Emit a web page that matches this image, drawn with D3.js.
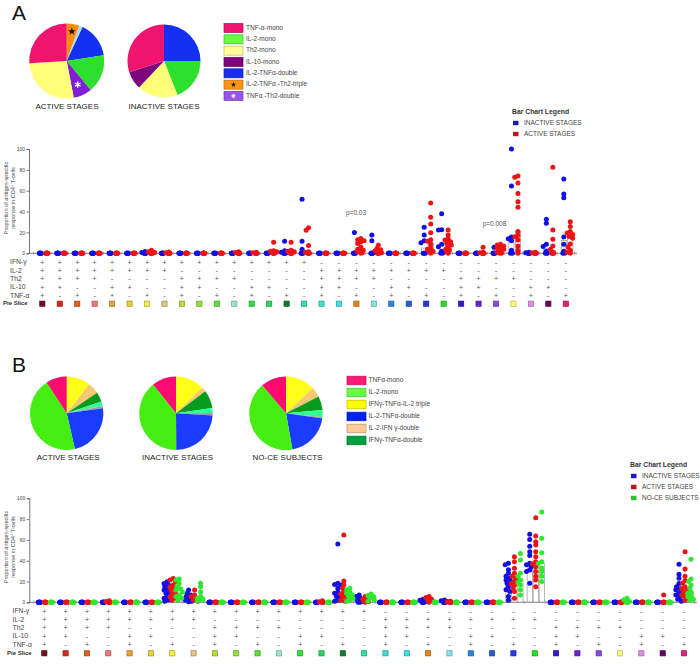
<!DOCTYPE html>
<html><head><meta charset="utf-8">
<script src="https://cdn.jsdelivr.net/npm/d3@7"></script>
<style>body{margin:0;background:#fff}svg{display:block}</style>
</head><body><svg id="c" width="700" height="664"></svg>
<script>
// ---------------- DATA ----------------
const markers = ["IFN-γ","IL-2","Th2","IL-10","TNF-α"];
const combos = ["+++++","++++-","+++-+","+++--","++-++","++-+-","++--+","++---",
  "+-+++","+-++-","+-+-+","+-+--","+--++","+--+-","+---+","+----",
  "-++++","-+++-","-++-+","-++--","-+-++","-+-+-","-+--+","-+---",
  "--+++","--++-","--+-+","--+--","---++","---+-","----+"];
const sliceColors = ["#6e0f1e","#d22a1e","#e0601e","#e8787a","#e8a03a","#e6cf3a","#f2f23c","#e2c582",
  "#b2e03c","#93e03c","#5ee03c","#9ee6c8","#2fe03c","#2fd066","#127a2a","#2fe0a6",
  "#3fe0c8","#3fe0e6","#e0841e","#86e2e6","#2a84e0","#2a5cd0","#2238e0","#22e022",
  "#3614d0","#6424d0","#8848e0","#ffff80","#e090e0","#5e0a5e","#e0207a"];
const yTicks = [0,20,40,60,80,100];

// Panel A pies
const pieLabelsA = ["ACTIVE STAGES","INACTIVE STAGES"];
const pieA_active = [5.5,1.5,15.5,16.5,8,27,26];
const pieA_activeColors = ["#ff8c0a","#a0e0f0","#1430f0","#2ee02e","#7e1fd6","#ffff7a","#f0146e"];
const pieA_inactive = [25,19,18,8,30];
const pieA_inactiveColors = ["#1430f0","#2ee02e","#ffff7a","#7d057d","#f0146e"];
const legendA = ["TNF-α-mono","IL-2-mono","Th2-mono","IL-10-mono","IL-2-TNFα-double","IL-2-TNFα -Th2-triple","TNFα -Th2-double"];
const legendAColors = ["#f0146e","#66ff44","#ffff99","#800080","#1a2cf0","#ff9410","#9955ee"];

// Panel B pies
const pieLabelsB = ["ACTIVE STAGES","INACTIVE STAGES","NO-CE SUBJECTS"];
const pieBColors = ["#ffff1a","#f8c870","#069a1e","#33ff99","#a0a0a0","#1a3cff","#44ee11","#ff0a6e"];
const pieB_active = [10.5,5,4.3,2,1,23.6,44.4,9.2];
const pieB_inactive = [12.7,2,8,2.2,1.1,23.9,39.4,10.7];
const pieB_noce = [13,4.4,6.2,3.1,0.6,19.9,41.6,11.2];
const legendB = ["TNFα-mono","IL-2-mono","IFNγ-TNFα-IL-2 triple","IL-2-TNFα-double","IL-2-IFN γ-double","IFNγ-TNFα-double"];
const legendBColors = ["#ff1a75","#66ff44","#ffff00","#0022ee","#ffcc99","#00a040"];

// Bar legends
const barLegendA = ["INACTIVE STAGES","ACTIVE STAGES"];
const barLegendB = ["INACTIVE STAGES","ACTIVE STAGES","NO-CE SUBJECTS"];

const Z8 = [0,0,0,0,0,0,0,0];
const Z10 = [0,0,0,0,0,0,0,0,0,0];
// Panel A points (per combination column)
const inactiveA = [Z8,Z8,Z8,Z8,Z8,Z8,[1.8,0.8,0,0,0,0,0,0],Z8,Z8,Z8,Z8,Z8,Z8,Z8,
  [11.5,2.5,1,0,0,0,0,0],[51.8,11.5,4,0,0,0,0,0],Z8,Z8,[20,0,0,0,0,0,0,0],[17.5,12,0,0,0,0,0,0],
  Z8,Z8,[25,17.5,12,10,0,0,0,0],[38,22.5,22.3,8.6,6.3,2,0,0],Z8,Z8,[5.8,0,0,0,0,0,0,0],
  [100,64.5,15.7,14,12,3,0,0],[1,0.5,0,0,0,0,0,0],[32.6,28.8,8.6,6.4,2,0,0,0],[71.2,56.8,53.3,15.7,8.6,2,0,0]];
const activeA = [Z10,Z10,Z10,Z10,Z10,Z10,[3,1.5,0.8,0,0,0,0,0,0,0],[1.2,0.5,0,0,0,0,0,0,0,0],Z10,Z10,Z10,
  [1.5,0.8,0,0,0,0,0,0,0,0],[1,0.5,0,0,0,0,0,0,0,0],[10.5,2.5,2,1.5,1,0.5,0,0,0,0],
  [10.5,3,2,1.5,1,0,0,0,0,0],[24.5,22,7.4,1.5,1,0,0,0,0,0],Z10,Z10,
  [14.3,13,12,11,9.5,6,4,3,2.5,1.5,0.5,0],[7.7,4.5,3.5,2.5,1.5,0.5,0,0,0,0],Z10,Z10,
  [48.2,34.5,28,19.7,12.9,11.5,8.6,5,3.8,2,1,0],[22.3,17.5,14,12.7,11,9.6,8,6.4,4,3.2,1,0],Z10,
  [5.8,1,0.5,0,0,0,0,0,0,0],[8.6,8,7,5.4,4.5,3.8,2.2,1,0,0],
  [74,73,67.5,57.3,49.4,44.2,21,17,15.8,12.7,7,3,0],[1,0.5,0,0,0,0,0,0,0,0],
  [82.4,22.3,13.4,7,4,1,0,0,0,0],[30.3,25.6,21,19.4,18,16.2,14.5,9,6,3,1,0]];

// Panel B points
const inactiveB = [Z8,Z8,Z8,Z8,Z8,Z8,[19.8,18,16.6,15,14.4,13,11.9,10,8.7,7,5.5,3.9,2.3,1],
  [11.9,8.7,7,5.5,4,2.3,1,0.5],Z8,Z8,Z8,Z8,Z8,Z8,[56,18.3,17,16.6,13.5,10,8.7,7,5.5,3.9,2,1],
  [7,5.5,3.9,2.5,1,0.5,0,0],Z8,Z8,[3,2,1,0,0,0,0,0],[2.3,1.5,0.5,0,0,0,0,0],Z8,Z8,
  [37.5,36,31.3,28,25,23.2,21.5,20,18.3,15,12,10.3,5.5,2],[65.4,60.5,54,48.6,45,37.5,36,34.3,31,29.5,18.3],
  Z8,Z8,Z8,Z8,Z8,Z8,[36.5,27,23.2,18,15,13,12,10,8.7,7,5.5,3,1]];
const activeB = [Z8,Z8,Z8,[1.5,0.8,0,0,0,0,0,0],Z8,Z8,[23,21.5,20,16.6,15,13.5,12,10.3,8,7.1,5,3.9,2],
  [11.9,7,5.5,4,2.3,1],Z8,Z8,Z8,Z8,Z8,[1.5,0.5,0,0,0,0,0,0],[64.7,20.5,16.6,13.5,10.3,8,7,5,4,2,1],
  [5.5,3,2,1,0.5,0],Z8,Z8,[5.5,4.5,3,2,1,0],[1,0.5,0,0,0,0,0,0],Z8,Z8,
  [43.9,39,32.7,28,25,23.2,20,18,16.6,13.5,10.3,4],[81.4,63.8,58.3,55,48.6,43.8,39,37,34.3,29.5,25,21.5,15],
  Z8,Z8,Z8,Z8,Z8,[7,0,0,0,0,0,0,0],[48.6,32,25,21,18.3,15,13,12,10,8.7,7,5.5,4,2]];
const noceB = [Z8,Z8,Z8,Z8,Z8,Z8,[22.4,21.5,18,15,13,11.9,10,7,5.5,4,2.3],[18.3,15,10,5.5,4,3,2.3,1.5],
  Z8,Z8,Z8,Z8,Z8,Z8,[13.5,12,10,8.7,7,5.5,4,2.3,1],[8,6.5,5.5,4,2.3,1],Z8,Z8,Z8,Z8,Z8,Z8,
  [47,40.7,28,25,21.5,19,16.6,12,7],[86.8,61.5,47.6,39,37.5,33,29.5,25,20],Z8,Z8,Z8,
  [4,2.5,1,0,0,0,0,0],Z8,Z8,[41.3,22.4,20,16.6,13.5,10,8.7,6,5.5,3,2]];

// ---------------- DRAW ----------------
const svg = d3.select("#c");
const FONT = "'Liberation Sans', Arial, sans-serif";
const TXT = "#444";

function txt(x, y, s, size, opts={}) {
  const t = svg.append("text").attr("x",x).attr("y",y).text(s)
    .attr("font-family",opts.family||FONT).attr("font-size",size)
    .attr("fill",opts.fill||TXT).attr("text-anchor",opts.anchor||"start")
    .attr("dominant-baseline",opts.baseline||"middle");
  if (opts.weight) t.attr("font-weight",opts.weight);
  if (opts.transform) t.attr("transform",opts.transform);
  return t;
}

function drawPie(cx, cy, r, vals, cols) {
  const arcs = d3.pie().sort(null).value(d=>d)(vals);
  const arc = d3.arc().innerRadius(0).outerRadius(r);
  svg.append("g").attr("transform",`translate(${cx},${cy})`)
    .selectAll("path").data(arcs).join("path")
    .attr("d",arc).attr("fill",(d,i)=>cols[i]);
  return arcs;
}

// Panel labels
txt(12, 14, "A", 21, {fill:"#111"});
txt(12, 366, "B", 21, {fill:"#111"});

// Pies A
const aAct = drawPie(66.7, 61, 37.5, pieA_active, pieA_activeColors);
drawPie(164, 61, 36.5, pieA_inactive, pieA_inactiveColors);
txt(67, 107, pieLabelsA[0], 8, {anchor:"middle", fill:"#222"});
txt(164, 107, pieLabelsA[1], 8, {anchor:"middle", fill:"#222"});
// stars
function starAt(x, y, black, sz) {
  if (black) {
    svg.append("path").attr("transform",`translate(${x},${y})`)
      .attr("d", d3.symbol(d3.symbolStar, sz)()).attr("fill","#111");
  } else {
    svg.append("path").attr("transform",`translate(${x},${y})`)
      .attr("d", d3.symbol(d3.symbolAsterisk, sz)()).attr("stroke","#fff").attr("stroke-width",1.2).attr("fill","none");
  }
}
{
  const a0 = aAct[0], a4 = aAct[4];
  const m0 = (a0.startAngle+a0.endAngle)/2, m4 = (a4.startAngle+a4.endAngle)/2;
  starAt(66.7 + 30*Math.sin(m0), 61 - 30*Math.cos(m0), true, 20);
  starAt(66.7 + 26*Math.sin(m4), 61 - 26*Math.cos(m4), false, 28);
}
// Legend A
legendA.forEach((s,i)=>{
  const yc = 28 + i*11.33;
  const c = legendAColors[i];
  svg.append("rect").attr("x",224).attr("y",yc-4.5).attr("width",19).attr("height",9)
    .attr("fill",c).attr("stroke",d3.color(c).darker(0.9)).attr("stroke-width",0.7);
  txt(246, yc, s, 6.5);
  if (i===5) starAt(233.5, yc, true, 9);
  if (i===6) starAt(233.5, yc, false, 12);
});

// Pies B
const pieBX = [66.7, 176, 286];
[pieB_active, pieB_inactive, pieB_noce].forEach((v,i)=>{
  drawPie(pieBX[i], 413.3, 36.7, v, pieBColors);
  txt(pieBX[i]+1.5, 458, pieLabelsB[i], 8, {anchor:"middle", fill:"#222"});
});
legendB.forEach((s,i)=>{
  const yc = 380.5 + i*11.99;
  const c = legendBColors[i];
  svg.append("rect").attr("x",347).attr("y",yc-4.3).attr("width",19).attr("height",8.6)
    .attr("fill",c).attr("stroke",d3.color(c).darker(0.9)).attr("stroke-width",0.7);
  txt(368.5, yc, s, 6.5);
});

// Bar chart legends
function barLegend(x, y, items, colors) {
  txt(x, y, "Bar Chart Legend", 6.8, {weight:"bold", fill:"#333"});
  items.forEach((s,i)=>{
    const yc = y + 11 + i*11;
    svg.append("rect").attr("x",x+1).attr("y",yc-2.2).attr("width",5.5).attr("height",4.4).attr("fill",colors[i]);
    txt(x+12, yc, s, 6.5);
  });
}
barLegend(512, 112, barLegendA, ["#1a1ab8","#c01818"]);
barLegend(630, 465, barLegendB, ["#1a1ab8","#c01818","#2fc02f"]);

// Scatter/bar panels
function layoutGroup(vals, cx, y, r) {
  const out = [];
  const zeros = vals.filter(v=>v===0);
  const nz = vals.filter(v=>v>0).sort((a,b)=>b-a);
  zeros.forEach((v,k)=>{
    const t = zeros.length>1 ? k/(zeros.length-1) : 0.5;
    out.push([cx - 1 + 2*t, y(0)]);
  });
  const placed = [];
  const cands = [0,-1.3,1.3,-2.4,2.4,-3.2,3.2];
  nz.forEach(v=>{
    const py = y(v);
    let best = null, bestD = -1;
    for (const c of cands) {
      const d = placed.length ? d3.min(placed, p=>Math.hypot(p[0]-c, p[1]-py)) : 99;
      if (d >= 3.4) { best = c; break; }
      if (d > bestD) { bestD = d; best = c; }
    }
    placed.push([best, py]);
    out.push([cx+best, py]);
  });
  return out;
}

function drawPanel(cfg) {
  const y = d3.scaleLinear().domain([0,100]).range([cfg.y0, cfg.y100]);
  const x = d3.scalePoint().domain(d3.range(combos.length)).range([cfg.x0, cfg.x1]);
  const step = x.step();
  const g = svg.append("g");
  const ax = g.append("g").attr("transform",`translate(${cfg.axisX},0)`)
    .call(d3.axisLeft(y).tickValues(yTicks).tickSize(2.5).tickPadding(1.5));
  ax.select(".domain").attr("stroke","#555").attr("stroke-width",0.8);
  ax.selectAll(".tick line").attr("stroke","#555").attr("stroke-width",0.8);
  ax.selectAll(".tick text").attr("font-family",FONT).attr("font-size",5).attr("fill","#444");
  g.append("line").attr("x1",cfg.axisX).attr("x2",cfg.xEnd).attr("y1",cfg.y0).attr("y2",cfg.y0)
    .attr("stroke","#666").attr("stroke-width",0.8);
  d3.range(-1, combos.length).forEach(i=>{
    const tx = x(Math.max(i,0)) + (i<0 ? -step/2 : step/2);
    g.append("line").attr("x1",tx).attr("x2",tx).attr("y1",cfg.y0-1.5).attr("y2",cfg.y0+1.5)
      .attr("stroke","#777").attr("stroke-width",0.6);
  });
  cfg.series.forEach(s=>{
    s.data.forEach((vals,i)=>{
      const m = d3.median(vals);
      if (m > 0.5) {
        g.append("rect").attr("x",x(i)+s.dx-2.6).attr("y",y(m)).attr("width",5.2)
          .attr("height",cfg.y0-y(m)).attr("fill","none").attr("stroke","#999").attr("stroke-width",0.7);
      }
    });
  });
  cfg.series.forEach(s=>{
    s.data.forEach((vals,i)=>{
      const pts = layoutGroup(vals, x(i)+s.dx, y, cfg.r);
      g.selectAll(null).data(pts).join("circle")
        .attr("cx",d=>d[0]).attr("cy",d=>d[1]).attr("r",cfg.r).attr("fill",s.color);
    });
  });
  const lx = 7, ly = cfg.labelY;
  txt(lx, ly, "Proportion of antigen-specific", 5.6, {anchor:"middle", transform:`rotate(-90 ${lx} ${ly})`});
  const t2 = txt(lx+6.5, ly, "response in CD4", 5.6, {anchor:"middle", transform:`rotate(-90 ${lx+6.5} ${ly})`});
  t2.append("tspan").attr("baseline-shift","super").attr("font-size",3.8).text("+");
  t2.append("tspan").text(" T-cells");
  markers.forEach((m,r)=>{
    const ry = cfg.rows[r];
    txt(cfg.rowLabelX, ry, m, 6.8);
    combos.forEach((c,i)=>{
      txt(x(i), ry + (c[r]==="+"?0.2:0), c[r]==="+" ? "+" : "-", c[r]==="+" ? 7 : 7.5, {anchor:"middle", fill:"#555"});
    });
  });
  const py = cfg.rows[5];
  txt(cfg.pieLabelX, py, "Pie Slice", 6, {weight:"bold", fill:"#333"});
  combos.forEach((c,i)=>{
    const col = sliceColors[i];
    g.append("rect").attr("x",x(i)-2.6).attr("y",py-2.6).attr("width",5.2).attr("height",5.2)
      .attr("fill",col).attr("stroke",d3.color(col).darker(1)).attr("stroke-width",0.7);
  });
  return {x, y};
}

drawPanel({
  y0: 253.3, y100: 149, axisX: 29, xEnd: 577, x0: 42.3, x1: 565.8, r: 2.5,
  labelY: 198, rows: [262.7, 271, 279.3, 287.7, 296, 303.7], rowLabelX: 10, pieLabelX: 3,
  series: [{data: inactiveA, color: "#1010e6", dx: -2}, {data: activeA, color: "#ee1414", dx: 4.5}]
});
txt(356, 213, "p=0.03", 6.5, {anchor:"middle", fill:"#555"});
txt(494.5, 224, "p=0.008", 6.5, {anchor:"middle", fill:"#555"});

drawPanel({
  y0: 602.3, y100: 498.3, axisX: 29.3, xEnd: 697, x0: 44.3, x1: 684, r: 2.5,
  labelY: 547, rows: [611.7, 620, 628.3, 636.7, 645, 653.3], rowLabelX: 12.5, pieLabelX: 7,
  series: [{data: inactiveB, color: "#1010e6", dx: -5}, {data: activeB, color: "#ee1414", dx: 1},
           {data: noceB, color: "#2ee82e", dx: 7}]
});
</script>
</body></html>
